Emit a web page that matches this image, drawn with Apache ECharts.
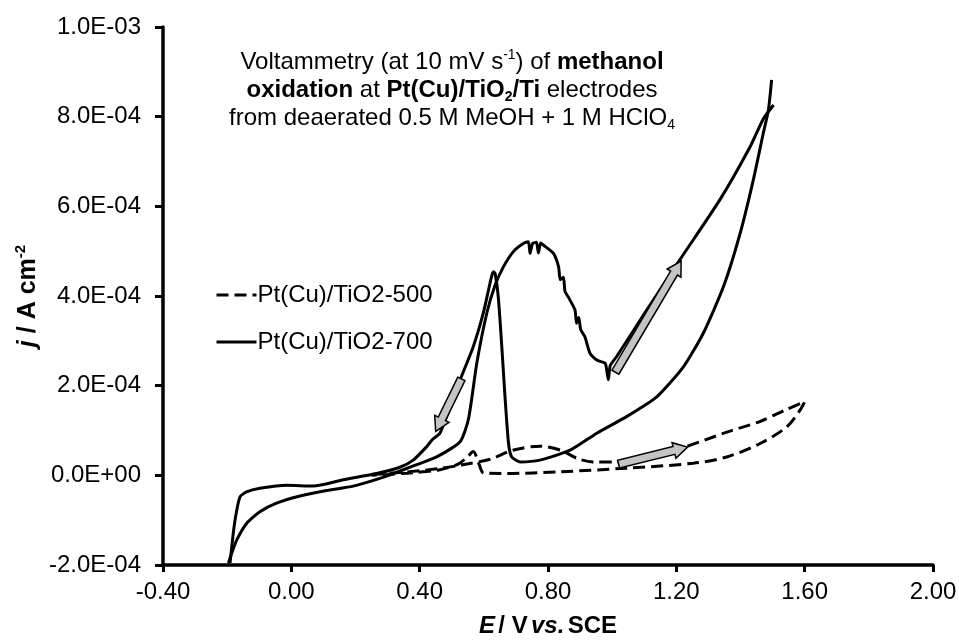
<!DOCTYPE html>
<html>
<head>
<meta charset="utf-8">
<script src="https://cdn.jsdelivr.net/npm/echarts@6/dist/echarts.min.js"></script>
<style>
  html, body { margin: 0; padding: 0; background: #fff; }
  #chart { width: 959px; height: 641px; }
</style>
</head>
<body>
<div id="chart"></div>
<script>
// E / V vs SCE, j in units of 1E-04 A cm-2
var solid700Fwd = [
  [-0.196,-1.96],[-0.186,-1.74],[-0.170,-1.44],[-0.139,-1.07],[-0.098,-0.81],[-0.046,-0.62],
  [0.027,-0.46],[0.110,-0.34],[0.193,-0.24],[0.266,-0.09],[0.318,0.04],[0.380,0.21],
  [0.453,0.41],[0.526,0.75],[0.552,1.25],[0.578,2.50],[0.609,3.61],[0.635,4.24],
  [0.661,4.65],[0.692,4.99],[0.723,5.17],[0.739,5.21],[0.744,4.95],[0.752,5.17],
  [0.764,5.20],[0.770,4.96],[0.777,5.18],[0.785,5.14],[0.817,4.95],[0.833,4.65],
  [0.838,4.36],[0.848,4.42],[0.853,4.10],[0.863,3.98],[0.884,3.69],[0.889,3.39],
  [0.896,3.52],[0.902,3.25],[0.915,3.09],[0.931,2.72],[0.952,2.57],[0.978,2.50],
  [0.984,2.30],[0.988,2.13],[0.994,2.45],[1.014,2.65],[1.100,3.60],[1.212,4.82],
  [1.336,6.15],[1.430,7.33],[1.471,7.95],[1.503,8.26]
];
var solid700Rev = [
  [1.497,8.82],[1.487,8.15],[1.471,7.63],[1.440,6.59],[1.399,5.40],[1.347,4.21],
  [1.284,3.17],[1.222,2.42],[1.139,1.75],[1.045,1.31],[0.952,0.94],[0.869,0.56],
  [0.775,0.34],[0.713,0.30],[0.687,0.41],[0.677,0.71],[0.666,1.75],[0.656,2.87],
  [0.645,3.98],[0.635,4.51],[0.630,4.54],[0.624,4.43],[0.598,3.61],[0.567,2.87],
  [0.526,2.13],[0.495,1.53],[0.463,0.94],[0.440,0.80],[0.422,0.64],[0.380,0.34],
  [0.338,0.18],[0.266,0.04],[0.162,-0.10],[0.068,-0.24],[-0.014,-0.22],[-0.098,-0.29],
  [-0.140,-0.37],[-0.160,-0.48],[-0.172,-0.85],[-0.181,-1.29],[-0.191,-1.96]
];
var dashed500Fwd = [
  [0.25,0.02],[0.35,0.07],[0.46,0.15],[0.53,0.23],[0.62,0.36],[0.69,0.56],[0.775,0.65],
  [0.84,0.56],[0.89,0.38],[0.94,0.30],[1.02,0.30],[1.12,0.45],[1.22,0.62],[1.36,0.97],
  [1.46,1.20],[1.54,1.46],[1.60,1.64]
];
var dashed500Rev = [
  [1.60,1.64],[1.586,1.46],[1.544,1.08],[1.461,0.71],[1.357,0.41],[1.253,0.27],
  [1.045,0.16],[0.838,0.08],[0.67,0.04],[0.60,0.05],[0.585,0.25],[0.567,0.53],
  [0.55,0.42],[0.52,0.25],[0.46,0.12],[0.38,0.06],[0.30,0.02],[0.25,0.0]
];
// scan direction arrows: [E tail, j tail, E tip, j tip]
var arrows = [
  [0.530, 2.15, 0.450, 0.98],
  [1.010, 2.30, 1.215, 4.78],
  [1.020, 0.25, 1.235, 0.63]
];
var xTicks = { min: -0.4, max: 2.0, step: 0.4 };
var yTicks = { min: -2, max: 10, step: 2 };
var seriesNames = ['Pt(Cu)/TiO2-500', 'Pt(Cu)/TiO2-700'];

var FONT = 'Liberation Sans, Arial, sans-serif';

function sci(v) {
  var a = v * 1e-4;
  if (Math.abs(a) < 1e-12) return '0.0E+00';
  var s = a.toExponential(1).split('e');
  var ex = parseInt(s[1], 10);
  var sign = ex < 0 ? '-' : '+';
  ex = Math.abs(ex);
  return s[0] + 'E' + sign + (ex < 10 ? '0' : '') + ex;
}

function arrowItem(params, api) {
  var p1 = api.coord([api.value(0), api.value(1)]);
  var p2 = api.coord([api.value(2), api.value(3)]);
  var dx = p2[0] - p1[0], dy = p2[1] - p1[1];
  var len = Math.sqrt(dx * dx + dy * dy);
  var ux = dx / len, uy = dy / len, nx = -uy, ny = ux;
  var sw = 4, hw = 8, hl = 14;
  var bx = p2[0] - ux * hl, by = p2[1] - uy * hl;
  var pts = [
    [p1[0] + nx * sw, p1[1] + ny * sw],
    [bx + nx * sw, by + ny * sw],
    [bx + nx * hw, by + ny * hw],
    [p2[0], p2[1]],
    [bx - nx * hw, by - ny * hw],
    [bx - nx * sw, by - ny * sw],
    [p1[0] - nx * sw, p1[1] - ny * sw]
  ];
  return {
    type: 'polygon',
    shape: { points: pts },
    style: { fill: '#c4c4c4', stroke: '#000', lineWidth: 1.5, lineJoin: 'miter' }
  };
}

var TS = 24;
var titleRich = {
  n: { fontSize: TS, fontFamily: FONT, color: '#000', lineHeight: 28 },
  b: { fontSize: TS, fontFamily: FONT, color: '#000', fontWeight: 'bold', lineHeight: 28 },
  sup: { fontSize: 14, fontFamily: FONT, color: '#000', lineHeight: 14, verticalAlign: 'top' },
  sub: { fontSize: 14, fontFamily: FONT, color: '#000', lineHeight: 12, verticalAlign: 'bottom' },
  bsub: { fontSize: 14, fontFamily: FONT, color: '#000', fontWeight: 'bold', lineHeight: 12, verticalAlign: 'bottom' }
};

function titleLine(y, text) {
  return {
    type: 'text', x: 452, y: y, z: 10,
    style: { text: text, rich: titleRich, align: 'center', verticalAlign: 'middle',
      textAlign: 'center', textVerticalAlign: 'middle' }
  };
}

var chart = echarts.init(document.getElementById('chart'));
chart.setOption({
  animation: false,
  backgroundColor: '#fff',
  grid: { left: 163, right: 26, top: 27, bottom: 76, containLabel: false, outerBoundsMode: 'none' },
  legend: {
    data: seriesNames,
    orient: 'vertical',
    left: 210, top: 278,
    itemWidth: 40, itemHeight: 14, itemGap: 23,
    itemStyle: { color: 'rgba(0,0,0,0)', borderColor: 'rgba(0,0,0,0)', borderWidth: 0 },
    lineStyle: { width: 3 },
    textStyle: { fontSize: 24, fontFamily: FONT, color: '#000', padding: [0, 0, 0, -4] }
  },
  xAxis: {
    type: 'value', min: xTicks.min, max: xTicks.max, interval: xTicks.step,
    name: '{i|E} {n|/ V} {bi|vs.} {n|SCE}',
    nameLocation: 'middle', nameGap: 49,
    nameTextStyle: {
      rich: {
        i: { fontSize: 24, fontFamily: FONT, fontWeight: 'bold', fontStyle: 'italic', color: '#000' },
        bi: { fontSize: 24, fontFamily: FONT, fontWeight: 'bold', fontStyle: 'italic', color: '#000' },
        n: { fontSize: 24, fontFamily: FONT, fontWeight: 'bold', color: '#000' }
      }
    },
    splitLine: { show: false },
    axisLine: { onZero: false, lineStyle: { color: '#000', width: 3.5 } },
    axisTick: { inside: false, length: 7, lineStyle: { color: '#000', width: 3 } },
    axisLabel: { margin: 15, fontSize: 24, fontFamily: FONT, color: '#000',
      formatter: function (v) { return v.toFixed(2); } }
  },
  yAxis: {
    type: 'value', min: yTicks.min, max: yTicks.max, interval: yTicks.step,
    splitLine: { show: false },
    axisLine: { onZero: false, lineStyle: { color: '#000', width: 3.5 } },
    axisTick: { inside: false, length: 8, lineStyle: { color: '#000', width: 3 } },
    axisLabel: { margin: 22, fontSize: 24, fontFamily: FONT, color: '#000', formatter: sci }
  },
  graphic: [
    titleLine(62, '{n|Voltammetry (at 10 mV s}{sup|-1}{n|) of }{b|methanol}'),
    titleLine(90, '{b|oxidation}{n| at }{b|Pt(Cu)/TiO}{bsub|2}{b|/Ti}{n| electrodes}'),
    titleLine(118, '{n|from deaerated 0.5 M MeOH + 1 M HClO}{sub|4}'),
    {
      type: 'text', x: 28, y: 296, rotation: Math.PI / 2, z: 10,
      style: {
        text: '{i|j}{n| / A cm}{s|-2}', align: 'center', verticalAlign: 'middle',
        textAlign: 'center', textVerticalAlign: 'middle',
        rich: {
          i: { fontSize: 25, fontFamily: FONT, fontWeight: 'bold', fontStyle: 'italic', color: '#000', lineHeight: 30 },
          n: { fontSize: 25, fontFamily: FONT, fontWeight: 'bold', color: '#000', lineHeight: 30 },
          s: { fontSize: 15, fontFamily: FONT, fontWeight: 'bold', color: '#000', lineHeight: 16, verticalAlign: 'top' }
        }
      }
    }
  ],
  series: [
    {
      name: seriesNames[0], type: 'line', data: dashed500Fwd.concat(dashed500Rev.slice(1)),
      showSymbol: false, symbol: 'none', smooth: 0.3, z: 3,
      lineStyle: { color: '#000', width: 3, type: [12, 6] },
      itemStyle: { color: '#000' }
    },
    {
      name: seriesNames[1], type: 'line', data: solid700Fwd,
      showSymbol: false, symbol: 'none', smooth: 0.2, z: 4,
      lineStyle: { color: '#000', width: 3 },
      itemStyle: { color: '#000' }
    },
    {
      name: seriesNames[1], type: 'line', data: solid700Rev,
      showSymbol: false, symbol: 'none', smooth: 0.2, z: 4,
      lineStyle: { color: '#000', width: 3 },
      itemStyle: { color: '#000' }
    },
    {
      type: 'custom', data: arrows, renderItem: arrowItem, z: 6,
      encode: { x: [0, 2], y: [1, 3] }, silent: true
    }
  ]
});
</script>
</body>
</html>
